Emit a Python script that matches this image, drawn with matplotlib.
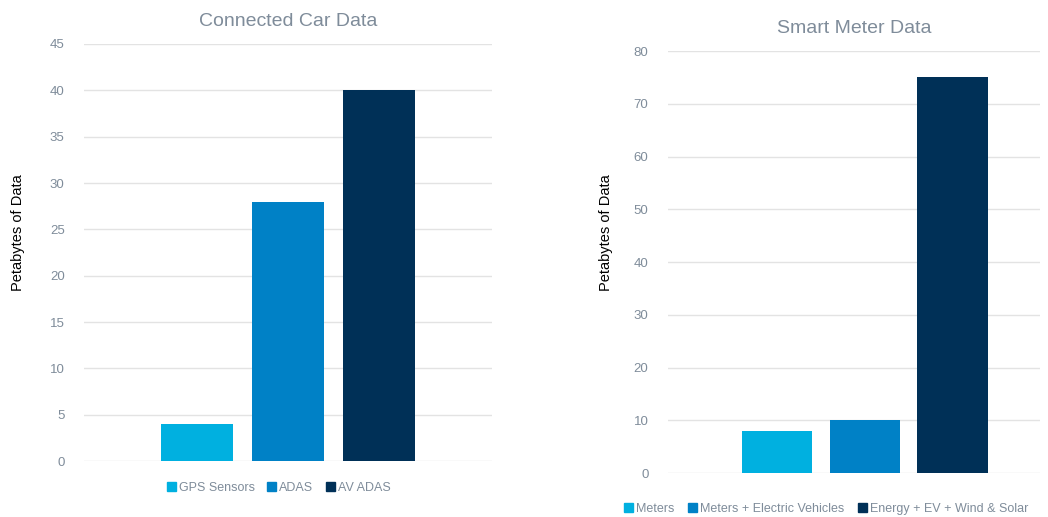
import matplotlib.pyplot as plt
from matplotlib.patches import Patch

plt.rcParams['font.family'] = ['Liberation Sans', 'DejaVu Sans']

car_labels = ['GPS Sensors', 'ADAS', 'AV ADAS']
car_values = [4, 28, 40]
car_ticks = [0, 5, 10, 15, 20, 25, 30, 35, 40, 45]

meter_labels = ['Meters', 'Meters + Electric Vehicles', 'Energy + EV + Wind & Solar']
meter_values = [8, 10, 75]
meter_ticks = [0, 10, 20, 30, 40, 50, 60, 70, 80]

colors = ['#00B0E0', '#0081C6', '#003057']
grey = '#7F8C9A'
grid_color = '#E3E3E3'


def draw_panel(ax, labels, values, ticks, title, xlim, width, legend_pos, colspace):
    xs = list(range(len(values)))
    ax.bar(xs, values, width=width, color=colors, zorder=3)
    ax.set_xlim(*xlim)
    ax.set_ylim(ticks[0], ticks[-1])
    ax.set_yticks(ticks)
    ax.set_xticks([])
    ax.tick_params(axis='y', length=0, labelsize=9.5, labelcolor=grey, pad=14)
    ax.grid(axis='y', color=grid_color, linewidth=1, zorder=0)
    for s in ax.spines.values():
        s.set_visible(False)
    ax.set_title(title, fontsize=14, color=grey, pad=13)
    handles = [Patch(color=c, label=l) for c, l in zip(colors, labels)]
    ax.legend(handles=handles, loc='center', bbox_to_anchor=legend_pos, ncol=3, frameon=False,
              fontsize=9, labelcolor=grey, handlelength=0.7, handleheight=0.7, handletextpad=0.25,
              columnspacing=colspace)


fig = plt.figure(figsize=(10.48, 5.17), dpi=100)
ax1 = fig.add_axes([0.0802, 0.1083, 0.3893, 0.8066])
ax2 = fig.add_axes([0.6374, 0.0851, 0.3550, 0.8162])

draw_panel(ax1, car_labels, car_values, car_ticks, 'Connected Car Data', (-1.24, 3.24), 0.79,
           (0.477, -0.065), 1.0)
draw_panel(ax2, meter_labels, meter_values, meter_ticks, 'Smart Meter Data', (-1.25, 3.0), 0.8,
           (0.425, -0.085), 1.1)

fig.text(0.017, 0.551, 'Petabytes of Data', rotation=90, va='center', ha='center', fontsize=10.5, color='black')
fig.text(0.578, 0.551, 'Petabytes of Data', rotation=90, va='center', ha='center', fontsize=10.5, color='black')

fig.savefig('out.png', dpi=100)
